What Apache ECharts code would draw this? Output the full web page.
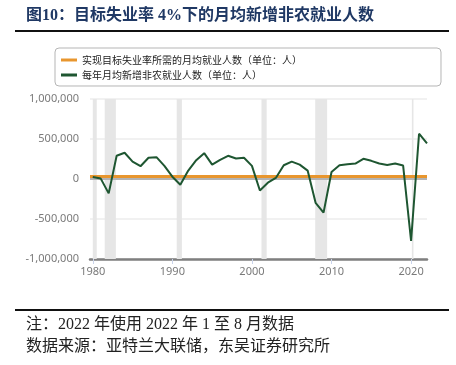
<!DOCTYPE html>
<html>
<head>
<meta charset="utf-8">
<script src="https://cdn.jsdelivr.net/npm/echarts@6/dist/echarts.min.js"></script>
<style>
  html, body { margin: 0; padding: 0; background: #fff; }
  #chart { width: 456px; height: 365px; }
</style>
</head>
<body>
<div id="chart"></div>
<script>
// annual average monthly nonfarm payroll change, 1980-2022
const years = [1980, 1981, 1982, 1983, 1984, 1985, 1986, 1987, 1988, 1989,
  1990, 1991, 1992, 1993, 1994, 1995, 1996, 1997, 1998, 1999,
  2000, 2001, 2002, 2003, 2004, 2005, 2006, 2007, 2008, 2009,
  2010, 2011, 2012, 2013, 2014, 2015, 2016, 2017, 2018, 2019,
  2020, 2021, 2022];
const jobs = [25000, 5000, -180000, 290000, 328000, 218000, 160000, 265000, 273000, 164000,
  29000, -71000, 105000, 235000, 323000, 180000, 240000, 290000, 256000, 265000,
  164000, -143000, -46000, 13000, 172000, 218000, 180000, 105000, -298000, -420000,
  88000, 172000, 185000, 193000, 252000, 227000, 193000, 176000, 193000, 168000,
  -775000, 566000, 446000];
const targetLevel = 40000; // jobs needed per month for 4% unemployment
// recession periods (fractional years)
const recessions = [[1980.0, 1980.5], [1981.5, 1982.9], [1990.55, 1991.2],
  [2001.2, 2001.85], [2007.95, 2009.45], [2020.1, 2020.3]];
const xLabels = [1980, 1990, 2000, 2010, 2020];
const yTicks = [-1000000, -500000, 0, 500000, 1000000];

const titleText = '图10：目标失业率 4%下的月均新增非农就业人数';
const seriesNames = ['实现目标失业率所需的月均就业人数（单位：人）', '每年月均新增非农就业人数（单位：人）'];
const noteLines = ['注：2022 年使用 2022 年 1 至 8 月数据', '数据来源：亚特兰大联储，东吴证券研究所'];

const chart = echarts.init(document.getElementById('chart'));

const labelColor = '#7a7a7a';
const serifFont = '"Liberation Serif", "Noto Sans CJK SC", serif';

const option = {
  animation: false,
  textStyle: { fontFamily: '"Noto Sans", "Noto Sans CJK SC", sans-serif' },
  graphic: [
    {
      type: 'text', left: 26, top: 8,
      style: { text: titleText, fill: '#1f3864', font: 'bold 16px ' + serifFont }
    },
    { type: 'rect', shape: { x: 15, y: 30, width: 434, height: 2 }, style: { fill: '#111' } },
    { type: 'rect', shape: { x: 15, y: 309, width: 434, height: 2 }, style: { fill: '#111' } },
    {
      type: 'text', left: 26, top: 317,
      style: { text: noteLines[0], fill: '#222', font: '16px ' + serifFont }
    },
    {
      type: 'text', left: 26, top: 339,
      style: { text: noteLines[1], fill: '#222', font: '16px ' + serifFont }
    }
  ],
  legend: {
    data: seriesNames,
    orient: 'vertical',
    left: 55,
    top: 48,
    padding: [7, 139, 6, 6],
    itemGap: 5,
    itemWidth: 16,
    itemHeight: 3,
    icon: 'rect',
    borderColor: '#b5b5b5',
    borderWidth: 1,
    borderRadius: 4,
    textStyle: { fontSize: 10, color: '#222', fontFamily: '"Noto Sans CJK SC", sans-serif' }
  },
  grid: { left: 90, right: 29, top: 99, bottom: 106 },
  xAxis: {
    type: 'value',
    min: 1979.65,
    max: 2022,
    axisLine: { onZero: false, lineStyle: { color: '#7f7f7f', width: 2.5 } },
    axisTick: { show: true, customValues: xLabels, length: 5, lineStyle: { color: '#c9d3ea' } },
    axisLabel: { customValues: xLabels, color: labelColor, fontSize: 11, margin: 7, formatter: v => String(v) },
    splitLine: { show: false }
  },
  yAxis: {
    type: 'value',
    min: yTicks[0],
    max: yTicks[yTicks.length - 1],
    interval: 500000,
    axisLine: { show: false },
    axisTick: { show: false },
    axisLabel: {
      color: labelColor, fontSize: 11, margin: 11,
      formatter: v => v.toLocaleString('en-US')
    },
    splitLine: { lineStyle: { color: '#ededed', width: 1.5 } }
  },
  series: [
    {
      name: 'recession',
      type: 'line',
      data: [],
      silent: true,
      markArea: {
        silent: true,
        itemStyle: { color: '#e6e6e6' },
        data: recessions.map(r => [{ xAxis: r[0] }, { xAxis: r[1] }])
      }
    },
    {
      name: seriesNames[0],
      type: 'line',
      data: [],
      itemStyle: { color: '#e8962e' },
      z: 4,
      markLine: {
        silent: true,
        symbol: 'none',
        label: { show: false },
        lineStyle: { color: '#e8962e', width: 3, type: 'solid' },
        data: [{ yAxis: targetLevel }]
      }
    },
    {
      name: seriesNames[1],
      type: 'line',
      data: years.map((y, i) => [y, jobs[i]]),
      symbol: 'none',
      itemStyle: { color: '#1e5631' },
      lineStyle: { color: '#1e5631', width: 2 },
      z: 5,
      markLine: {
        silent: true,
        symbol: 'none',
        label: { show: false },
        lineStyle: { color: '#b3b3b3', width: 2, type: 'solid' },
        z: 3,
        data: [{ yAxis: 0 }]
      }
    }
  ]
};

chart.setOption(option);
</script>
</body>
</html>
